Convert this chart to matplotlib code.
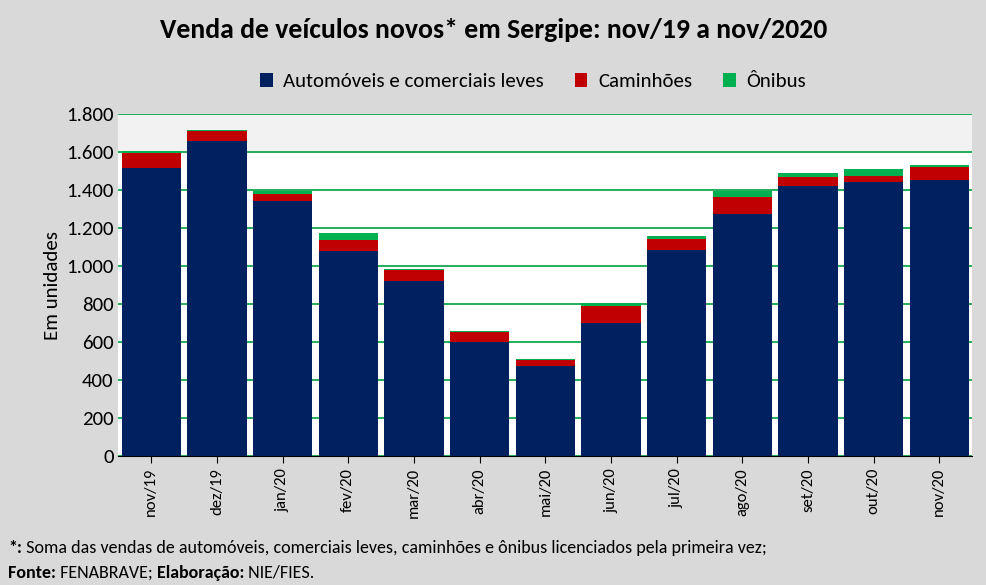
import matplotlib.pyplot as plt
import numpy as np

plt.rcParams['font.family'] = ['Calibri', 'Carlito', 'Open Sans', 'DejaVu Sans']

meses = ['nov/19', 'dez/19', 'jan/20', 'fev/20', 'mar/20', 'abr/20', 'mai/20',
         'jun/20', 'jul/20', 'ago/20', 'set/20', 'out/20', 'nov/20']
automoveis = [1515, 1657, 1341, 1078, 921, 600, 473, 700, 1083, 1273, 1420, 1441, 1452]
caminhoes = [79, 53, 37, 58, 57, 52, 32, 89, 58, 89, 48, 32, 68]
onibus = [11, 5, 16, 37, 6, 6, 5, 16, 16, 32, 21, 37, 11]

fig = plt.figure(figsize=(9.87, 5.85), dpi=100)
fig.patch.set_facecolor('#d9d9d9')
ax = fig.add_axes([0.12, 0.22, 0.865, 0.585])
ax.set_facecolor('white')

x = np.arange(len(meses))
a = np.array(automoveis)
c = np.array(caminhoes)
o = np.array(onibus)
ax.bar(x, a, width=0.9, color='#002060', label='Automóveis e comerciais leves', zorder=3)
ax.bar(x, c, width=0.9, bottom=a, color='#c00000', label='Caminhões', zorder=3)
ax.bar(x, o, width=0.9, bottom=a + c, color='#00b050', label='Ônibus', zorder=3)

ax.axhspan(1600, 1800, color='#f2f2f2', zorder=0)
ax.set_ylim(0, 1800)
ax.set_xlim(-0.5, len(meses) - 0.5)
ax.set_yticks(range(0, 1801, 200))
ax.set_yticklabels([f'{v:,}'.replace(',', '.') for v in range(0, 1801, 200)], fontsize=15)
ax.yaxis.grid(True, color='#00a040', linewidth=1.2, zorder=1)
ax.set_xticks(x)
ax.set_xticklabels(meses, rotation=90, fontsize=12)
ax.tick_params(axis='y', length=0)
ax.tick_params(axis='x', length=5)
for s in ['top', 'right', 'left']:
    ax.spines[s].set_visible(False)
ax.set_ylabel('Em unidades', fontsize=15)

fig.text(0.5, 0.935, 'Venda de veículos novos* em Sergipe: nov/19 a nov/2020',
         ha='center', fontsize=20, fontweight='bold')
fig.legend(loc='center', bbox_to_anchor=(0.54, 0.86), ncol=3, frameon=False,
           fontsize=15, handlelength=0.6, handleheight=0.6, columnspacing=1.5,
           handletextpad=0.5)

# footer: bold and normal pieces placed one after another
fig.canvas.draw()
renderer = fig.canvas.get_renderer()
def linha(partes, y):
    xpos = 0.008
    for txt, bold in partes:
        t = fig.text(xpos, y, txt, fontsize=13, fontweight='bold' if bold else 'normal')
        bb = t.get_window_extent(renderer)
        xpos += bb.width / fig.bbox.width
linha([('*:', True), (' Soma das vendas de automóveis, comerciais leves, caminhões e ônibus licenciados pela primeira vez;', False)], 0.055)
linha([('Fonte:', True), (' FENABRAVE; ', False), ('Elaboração:', True), (' NIE/FIES.', False)], 0.012)

fig.savefig('out.png', dpi=100, facecolor=fig.get_facecolor())
